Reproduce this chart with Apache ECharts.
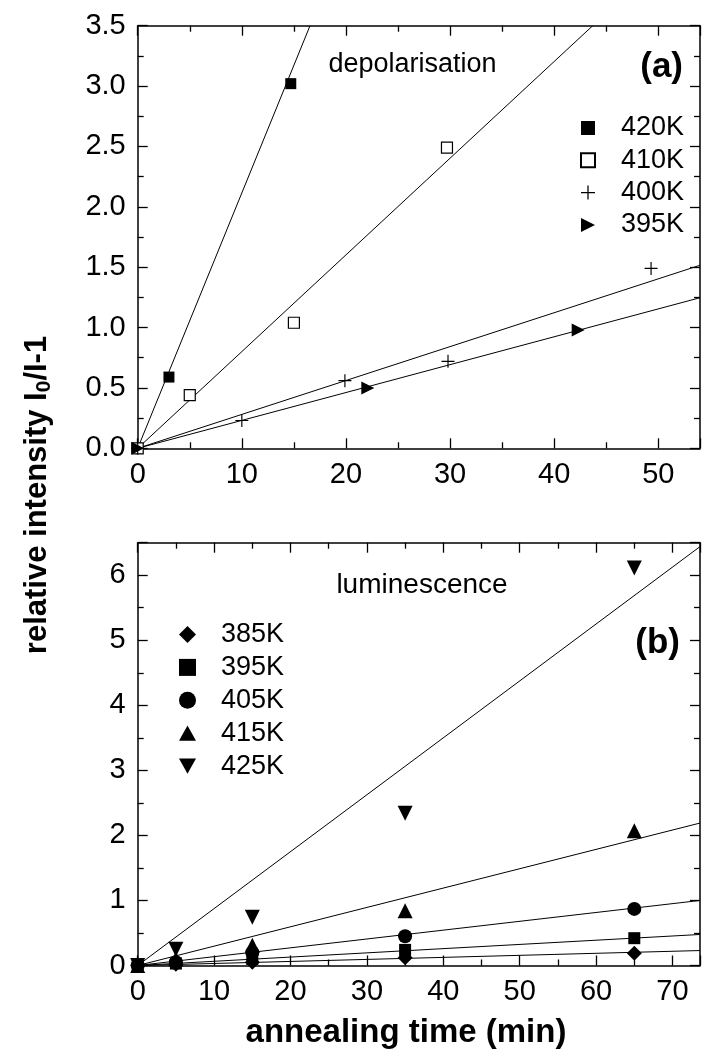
<!DOCTYPE html>
<html>
<head>
<meta charset="utf-8">
<script src="https://cdn.jsdelivr.net/npm/echarts@6/dist/echarts.min.js"></script>
<style>
  html, body { margin: 0; padding: 0; background: #fff; }
  #chart { width: 702px; height: 1055px; }
</style>
</head>
<body>
<div id="chart"></div>
<script>
// ---- (a) depolarisation: [annealing time (min), I0/I-1] ----
const depolNames = ['420K', '410K', '400K', '395K'];
const depol420 = [[0, 0], [3, 0.59], [14.7, 3.02]];
const depol410 = [[0, 0], [5, 0.44], [15, 1.04], [29.7, 2.49]];
const depol400 = [[0, 0], [10, 0.23], [19.9, 0.56], [29.8, 0.72], [49.3, 1.49]];
const depol395 = [[0, 0], [22.1, 0.50], [42.3, 0.98]];
// linear fits (end points)
const depolFit420 = [[0, 0], [16.55, 3.5]];
const depolFit410 = [[0, 0], [43.7, 3.5]];
const depolFit400 = [[0, 0], [54, 1.516]];
const depolFit395 = [[0, 0], [54, 1.247]];

// ---- (b) luminescence ----
// (the trailing space keeps the 395K entry of panel b apart from panel a's)
const lumNames = ['385K', '395K ', '405K', '415K', '425K'];
const lumTimes = [0, 5, 15, 35, 65];
const lum385 = [0, 0.02, 0.05, 0.12, 0.19];
const lum395 = [0, 0.03, 0.10, 0.24, 0.42];
const lum405 = [0, 0.05, 0.20, 0.45, 0.87];
const lum415 = [0, 0.10, 0.31, 0.84, 2.07];
const lum425 = [0, 0.25, 0.74, 2.34, 6.11];
// linear fits (end points)
const lumFitEnd = 73.6;
const lumFit385 = [[0, 0], [lumFitEnd, 0.23]];
const lumFit395 = [[0, 0], [lumFitEnd, 0.477]];
const lumFit405 = [[0, 0], [lumFitEnd, 1.0]];
const lumFit415 = [[0, 0], [lumFitEnd, 2.19]];
const lumFit425 = [[0, 0], [lumFitEnd, 6.44]];

// ---- axes ----
const depolX = { min: 0, max: 54, interval: 10 };
const depolY = { min: 0, max: 3.5, interval: 0.5 };
const lumX = { min: 0, max: 73.6, interval: 10 };
const lumY = { min: 0, max: 6.5, interval: 1 };

const FONT = '"Liberation Sans", Arial, Helvetica, sans-serif';
const INK = '#000';

const PLUS = 'path://M4.55,0 H5.45 V4.55 H10 V5.45 H5.45 V10 H4.55 V5.45 H0 V4.55 H4.55 Z';
const RIGHT_TRI = 'path://M0,0 L10,5 L0,10 Z';
const DOWN_TRI = 'path://M0,0 L10,0 L5,9 Z';
const UP_TRI = 'path://M5,0 L10,9 L0,9 Z';

function zipTimes(vals) { return lumTimes.map((t, i) => [t, vals[i]]); }

// labelMax: whether the axis end carries a tick label (only when max is a whole step)
function makeAxis(gridIndex, range, position, labelled, decimals, labelMax) {
  return {
    type: 'value', gridIndex, position,
    min: range.min, max: range.max, interval: range.interval,
    axisLine: { show: true, onZero: false, lineStyle: { color: INK, width: 1.5 } },
    axisTick: { show: true, inside: true, length: 10, lineStyle: { color: INK, width: 1.3 } },
    minorTick: { show: true, splitNumber: 2, length: 6, lineStyle: { color: INK, width: 1.3 } },
    splitLine: { show: false },
    axisLabel: labelled ? {
      show: true, color: INK, fontSize: 29, fontFamily: FONT, margin: 12,
      showMaxLabel: !!labelMax,
      formatter: v => (decimals ? v.toFixed(decimals) : String(Math.round(v)))
    } : { show: false }
  };
}

function scatter(name, data, xi, yi, symbol, size, style) {
  return {
    type: 'scatter', name, data, xAxisIndex: xi, yAxisIndex: yi,
    symbol, symbolSize: size, z: 5, silent: true,
    itemStyle: Object.assign({ color: INK, opacity: 1 }, style || {})
  };
}
function fit(data, xi, yi) {
  return {
    type: 'line', data, xAxisIndex: xi, yAxisIndex: yi, showSymbol: false, symbol: 'none',
    lineStyle: { color: INK, width: 1 }, z: 3, silent: true, clip: true
  };
}

function legendBlock(names, icons, left, top, size, gap, pad) {
  return {
    data: names.map((n, i) => ({ name: n, icon: icons[i] })),
    orient: 'vertical', left, top,
    itemWidth: size, itemHeight: size, itemGap: gap, selectedMode: false,
    itemStyle: { opacity: 1 },
    textStyle: { color: INK, fontSize: 27, fontFamily: FONT, lineHeight: 27, padding: [0, 0, 0, pad] }
  };
}

const chart = echarts.init(document.getElementById('chart'), null, { renderer: 'canvas' });

chart.setOption({
  animation: false,
  backgroundColor: '#fff',
  grid: [
    { left: 137.7, top: 25.7, width: 562.3, height: 422.6 },
    { left: 137.7, top: 542.7, width: 562.3, height: 422.8 }
  ],
  xAxis: [
    makeAxis(0, depolX, 'bottom', true, 0, false),
    makeAxis(0, depolX, 'top', false, 0, false),
    makeAxis(1, lumX, 'bottom', true, 0, false),
    makeAxis(1, lumX, 'top', false, 0, false)
  ],
  yAxis: [
    makeAxis(0, depolY, 'left', true, 1, true),
    makeAxis(0, depolY, 'right', false, 1, true),
    makeAxis(1, lumY, 'left', true, 0, false),
    makeAxis(1, lumY, 'right', false, 0, false)
  ],
  legend: [
    legendBlock(depolNames, ['rect', 'rect', PLUS, RIGHT_TRI], 575, 109.5, 14, 5.3, 21),
    legendBlock(lumNames, ['diamond', 'rect', 'circle', UP_TRI, DOWN_TRI], 174, 616, 17, 5.9, 20)
  ],
  graphic: [
    { type: 'text', x: 412.5, y: 65, style: { text: 'depolarisation', fill: INK, font: '27px ' + FONT, align: 'center', verticalAlign: 'middle' } },
    { type: 'text', x: 683, y: 67, style: { text: '(a)', fill: INK, font: 'bold 35px ' + FONT, align: 'right', verticalAlign: 'middle' } },
    { type: 'text', x: 422, y: 585, style: { text: 'luminescence', fill: INK, font: '28px ' + FONT, align: 'center', verticalAlign: 'middle' } },
    { type: 'text', x: 680, y: 643, style: { text: '(b)', fill: INK, font: 'bold 35px ' + FONT, align: 'right', verticalAlign: 'middle' } },
    { type: 'text', x: 406, y: 1033, style: { text: 'annealing time (min)', fill: INK, font: 'bold 33px ' + FONT, align: 'center', verticalAlign: 'middle' } },
    {
      type: 'text', x: 37, y: 495, rotation: Math.PI / 2,
      style: {
        text: '{t|relative intensity I}{s|0}{t|/I-1}',
        align: 'center', verticalAlign: 'middle',
        rich: {
          t: { fill: INK, fontSize: 31, fontWeight: 'bold', fontFamily: FONT, lineHeight: 34 },
          s: { fill: INK, fontSize: 21, fontWeight: 'bold', fontFamily: FONT, lineHeight: 34, padding: [14, 0, 0, 0] }
        }
      }
    }
  ],
  series: [
    fit(depolFit420, 0, 0),
    fit(depolFit410, 0, 0),
    fit(depolFit400, 0, 0),
    fit(depolFit395, 0, 0),
    scatter('420K', depol420, 0, 0, 'rect', 11),
    scatter('410K', depol410, 0, 0, 'rect', 11, { color: '#fff', borderColor: INK, borderWidth: 1.2 }),
    scatter('400K', depol400, 0, 0, PLUS, 13),
    scatter('395K', depol395, 0, 0, RIGHT_TRI, 13),

    fit(lumFit385, 2, 2),
    fit(lumFit395, 2, 2),
    fit(lumFit405, 2, 2),
    fit(lumFit415, 2, 2),
    fit(lumFit425, 2, 2),
    scatter(lumNames[0], zipTimes(lum385), 2, 2, 'diamond', 15),
    scatter(lumNames[1], zipTimes(lum395), 2, 2, 'rect', 12),
    scatter(lumNames[2], zipTimes(lum405), 2, 2, 'circle', 14),
    scatter(lumNames[3], zipTimes(lum415), 2, 2, UP_TRI, 15),
    scatter(lumNames[4], zipTimes(lum425), 2, 2, DOWN_TRI, 15)
  ]
});
</script>
</body>
</html>
